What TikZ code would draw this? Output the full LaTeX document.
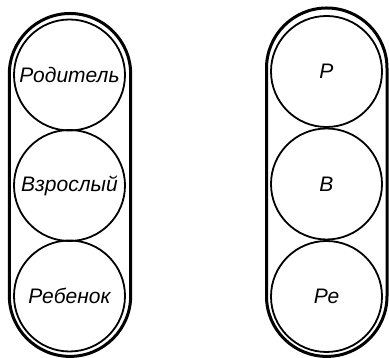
\documentclass[tikz,border=0pt]{standalone}
\usepackage{fontspec}
\setmainfont{Liberation Sans}
\begin{document}
\begin{tikzpicture}[x=1pt,y=1pt,line join=round,line cap=round,font=\fontsize{21}{25}\selectfont\itshape]
	\pgfmathsetmacro{\r}{55.5};
	\pgfmathsetmacro{\d}{2*\r};
	\tikzset{ego/.style={circle,draw,line width=1.8pt,minimum size=\d pt,inner sep=0pt}}
	\useasboundingbox (0,0) rectangle (389,358);
	% the two capsules
	\draw[line width=3pt,rounded corners=60.7pt] (9.3,1.6) rectangle (130.7,344.5);
	\draw[line width=3pt,rounded corners=60.2pt] (266.5,1.6) rectangle (387,350);
	% ego states
	\foreach \n/\y/\t in {P/283/Родитель,A/172.5/Взрослый,C/62/Ребенок} \node[ego] (L\n) at (69.5,\y) {\t};
	\foreach \n/\y/\t in {P/286.5/Р,A/174/В,C/61.5/Ре} \node[ego] (R\n) at (326.5,\y) {\t};
\end{tikzpicture}
\end{document}
